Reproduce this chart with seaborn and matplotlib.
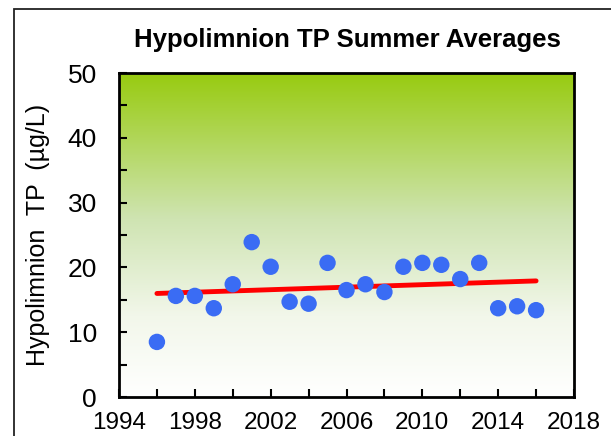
import numpy as np
import pandas as pd
import matplotlib
matplotlib.use("Agg")
import matplotlib.pyplot as plt
import seaborn as sns
from matplotlib.colors import LinearSegmentedColormap
from matplotlib.patches import Rectangle

years = [1996, 1997, 1998, 1999, 2000, 2001, 2002, 2003, 2004, 2005, 2006,
         2007, 2008, 2009, 2010, 2011, 2012, 2013, 2014, 2015, 2016]
tp = [8.5, 15.6, 15.6, 13.7, 17.4, 23.9, 20.1, 14.7, 14.4, 20.7, 16.5,
      17.4, 16.2, 20.1, 20.7, 20.4, 18.2, 20.7, 13.7, 14.0, 13.4]
xticks_major = [1994, 1998, 2002, 2006, 2010, 2014, 2018]
yticks_major = [0, 10, 20, 30, 40, 50]

df = pd.DataFrame({"Year": years, "TP": tp})

sns.set_theme(style="white")
plt.rcParams['font.family'] = ['Liberation Sans', 'DejaVu Sans']
plt.rcParams['text.color'] = 'black'
plt.rcParams['axes.labelcolor'] = 'black'
plt.rcParams['xtick.color'] = 'black'
plt.rcParams['ytick.color'] = 'black'

fig = plt.figure(figsize=(6.11, 4.36), dpi=100)
W, H = 611, 436
ax = fig.add_axes([119 / W, 1 - 397 / H, (574 - 119) / W, (397 - 73) / H])

# outer chart frame
fig.patches.append(Rectangle((14 / W, -0.1), 1.2, 1 - 9.5 / H + 0.1,
                             transform=fig.transFigure, fill=False,
                             edgecolor='#222222', linewidth=1.3, zorder=0))

# gradient background
cmap = LinearSegmentedColormap.from_list(
    "bg", [(0.0, "#ffffff"), (0.25, "#f2f7ea"), (0.55, "#cfe4b2"), (1.0, "#98cb10")])
grad = np.linspace(0, 1, 256).reshape(-1, 1)
ax.imshow(grad, cmap=cmap, aspect='auto', origin='lower',
          extent=[1994, 2018, 0, 50], zorder=0)

sns.regplot(data=df, x="Year", y="TP", ax=ax, scatter=False, ci=None,
            line_kws=dict(color='#ff0000', linewidth=3.5, zorder=2))
sns.scatterplot(data=df, x="Year", y="TP", ax=ax, color='#3a6cf4', s=140,
                edgecolor='none', zorder=3)

ax.set_xlim(1994, 2018)
ax.set_ylim(0, 50)
ax.set_xticks(xticks_major)
ax.set_xticks(np.arange(1996, 2018, 4), minor=True)
ax.set_yticks(yticks_major)
ax.set_yticks(np.arange(5, 50, 10), minor=True)
ax.tick_params(axis='both', which='both', direction='in', length=6, width=1.5,
               color='black', bottom=True, left=True)
ax.tick_params(axis='x', labelsize=17.5, pad=11)
ax.tick_params(axis='y', labelsize=19, pad=16)
for s in ax.spines.values():
    s.set_color('black')
    s.set_linewidth(2)

ax.set_xlabel("")
ax.set_ylabel("Hypolimnion  TP  (µg/L)", fontsize=18)
ax.yaxis.set_label_coords((50 - 119) / (574 - 119), (397 - 235) / (397 - 73))
fig.text(347 / W, 1 - 40 / H, "Hypolimnion TP Summer Averages",
         ha='center', va='center', fontsize=18.5, fontweight='bold')

fig.savefig("out.png", dpi=100)
